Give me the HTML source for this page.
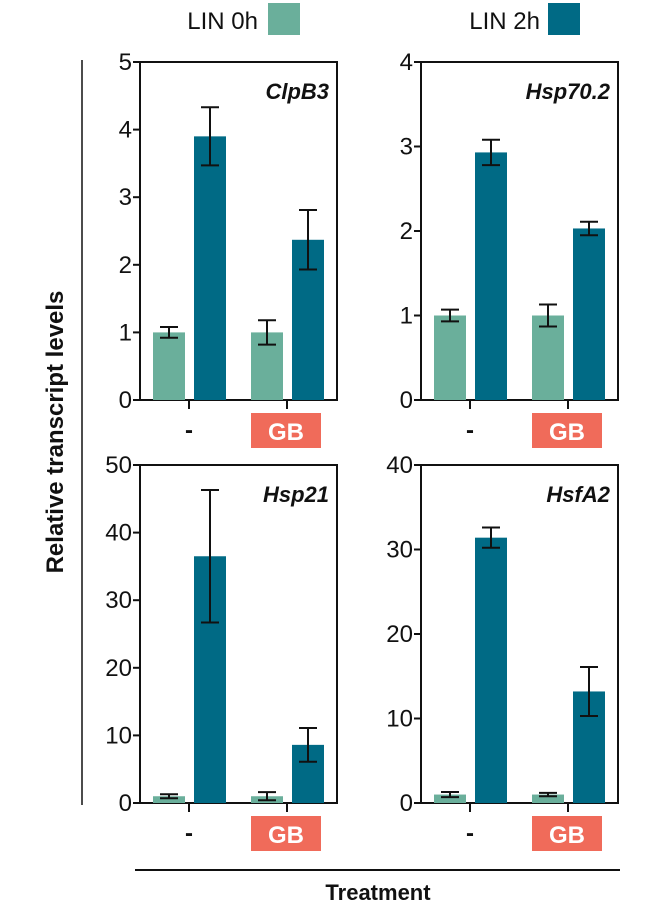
<!DOCTYPE html>
<html><head><meta charset="utf-8"><style>
body{margin:0;background:#fff;}
svg text{font-family:"Liberation Sans",Arial,sans-serif;}
</style></head><body>
<svg id="chart" width="665" height="906" xmlns="http://www.w3.org/2000/svg">
<g>
<text x="258" y="29" font-size="24" text-anchor="end" fill="#111">LIN 0h</text>
<rect x="268" y="3" width="32" height="32" fill="#6aaf9b"/>
<text x="540" y="29" font-size="24" text-anchor="end" fill="#111">LIN 2h</text>
<rect x="548" y="3" width="32" height="32" fill="#006a85"/>
</g>
<line x1="82" y1="60" x2="82" y2="805" stroke="#111" stroke-width="1.5"/>
<text transform="translate(63,432) rotate(-90)" font-size="24" font-weight="bold" text-anchor="middle" fill="#111">Relative transcript levels</text>
<line x1="135" y1="870" x2="620" y2="870" stroke="#111" stroke-width="2"/>
<text x="378" y="900" font-size="22" font-weight="bold" text-anchor="middle" fill="#111">Treatment</text>
<g id="panels"></g>
</svg>
<script>
const genes = ["ClpB3","Hsp70.2","Hsp21","HsfA2"];
const yMax = [5,4,50,40];
const yStep = [1,1,10,10];
const lin0h = [[1,1],[1,1],[1,1],[1,1]];
const lin0hErr = [[0.08,0.18],[0.07,0.13],[0.3,0.6],[0.3,0.2]];
const lin2h = [[3.9,2.37],[2.93,2.03],[36.5,8.6],[31.4,13.2]];
const lin2hErr = [[0.43,0.44],[0.15,0.08],[9.8,2.5],[1.2,2.9]];
const treatments = ["-","GB"];

const NS="http://www.w3.org/2000/svg";
const root=document.getElementById('panels');
function mk(tag,attrs,parent){const e=document.createElementNS(NS,tag);for(const k in attrs)e.setAttribute(k,attrs[k]);parent.appendChild(e);return e;}
const origins=[[140,62],[421,62],[140,465],[421,465]];
const W=197,H=338;
genes.forEach((g,i)=>{
  const [x0,y0]=origins[i];
  const gp=mk('g',{},root);
  
  
  const ys=v=>y0+H-v/yMax[i]*H;
  const fr=mk('path',{d:`M${x0},${y0} L${x0+W},${y0} L${x0+W},${y0+H} L${x0},${y0+H} Z`,fill:'none',stroke:'#111','stroke-width':2},gp);
  
  
  for(let v=0;v<=yMax[i]+1e-9;v+=yStep[i]){
    const t=mk('line',{x1:x0-7,x2:x0,y1:ys(v),y2:ys(v),stroke:'#111','stroke-width':2},gp);
    
    
    const l=mk('text',{x:x0-8,y:ys(v)+8,'font-size':24,'text-anchor':'end',fill:'#111'},gp);
    
    
    l.textContent=v;
  }
  const lbl=mk('text',{x:x0+W-8,y:y0+37,'font-size':22,'font-weight':'bold','font-style':'italic','text-anchor':'end',fill:'#111'},gp);
  
  
  lbl.textContent=g;
  treatments.forEach((tr,j)=>{
    const cx=x0+49+j*98;
    const series=[[lin0h[i][j],lin0hErr[i][j],'#6aaf9b',cx-36,'bar-lin0h'],[lin2h[i][j],lin2hErr[i][j],'#006a85',cx+5,'bar-lin2h']];
    series.forEach(([v,e,c,bx,nm])=>{
      const b=mk('rect',{x:bx,y:ys(v),width:32,height:ys(0)-ys(v),fill:c},gp);
      
      
      const mx=bx+16;
      const eb=mk('path',{d:`M${mx},${ys(v+e)} L${mx},${ys(v-e)} M${mx-9},${ys(v+e)} L${mx+9},${ys(v+e)} M${mx-9},${ys(v-e)} L${mx+9},${ys(v-e)}`,stroke:'#111','stroke-width':2,fill:'none'},gp);
      
      
    });
    const tk=mk('line',{x1:cx,x2:cx,y1:y0+H,y2:y0+H+9,stroke:'#111','stroke-width':2},gp);
    
    
    if(tr==='GB'){
      const r=mk('rect',{x:cx-36,y:y0+H+13,width:70,height:35,fill:'#f06b5a'},gp);
      
      
      const t=mk('text',{x:cx-1,y:y0+H+40,'font-size':24,'font-weight':'bold','text-anchor':'middle',fill:'#fff'},gp);
      
      
      t.textContent='GB';
    } else {
      const t=mk('text',{x:cx,y:y0+H+38,'font-size':24,'font-weight':'bold','text-anchor':'middle',fill:'#111'},gp);
      
      
      t.textContent='-';
    }
  });
});
</script>
</body></html>
